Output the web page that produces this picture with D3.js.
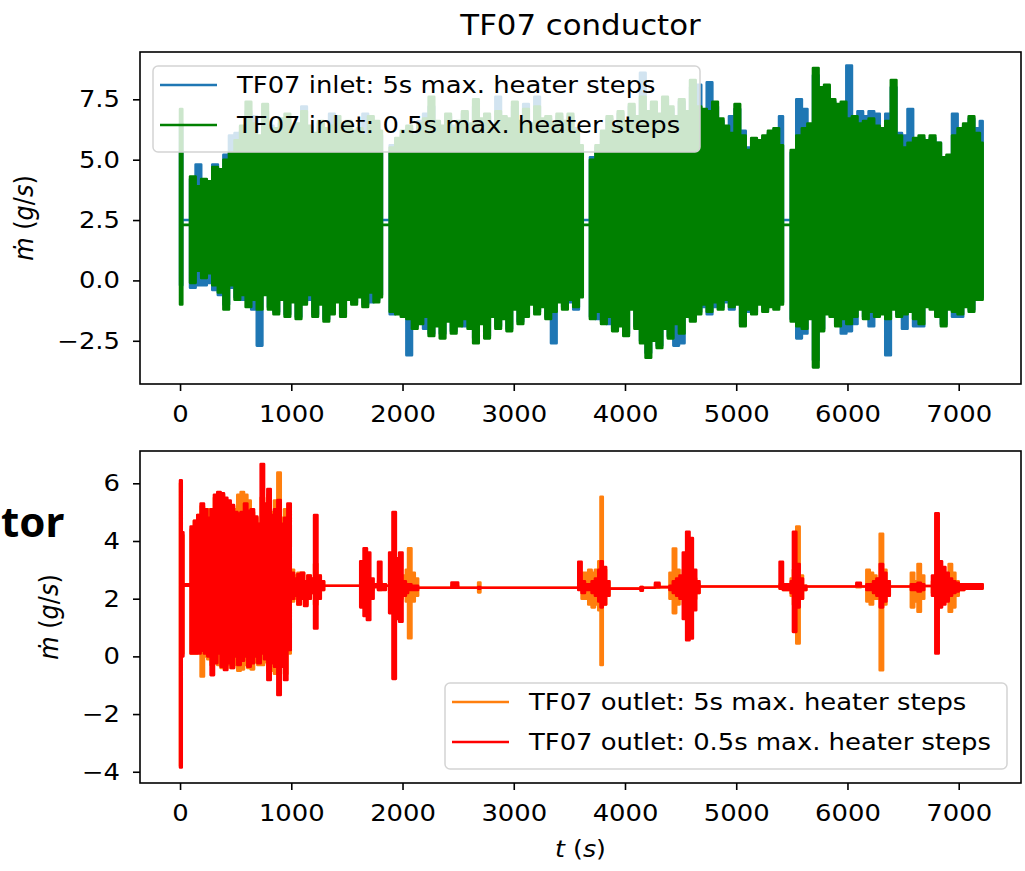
<!DOCTYPE html>
<html>
<head>
<meta charset="utf-8">
<script src="https://cdn.jsdelivr.net/npm/d3@7"></script>
<style>
body { margin: 0; background: #fff; }
text { font-family: "DejaVu Sans", sans-serif; fill: #000; }
</style>
</head>
<body>
<div id="chart"></div>
<script>
// sample times (s) and min/max envelope of each signal between samples
var tTop = [0, 20,
	90, 140, 190, 240, 290, 340, 390, 440, 490, 540, 590, 640, 690, 740, 790, 840, 890, 940, 990, 1040, 1090, 1140, 1190, 1240, 1290, 1340, 1390, 1440, 1490, 1540, 1590, 1640, 1690, 1740, 1790,
	1815,
	1885, 1935, 1985, 2035, 2085, 2135, 2185, 2235, 2285, 2335, 2385, 2435, 2485, 2535, 2585, 2635, 2685, 2735, 2785, 2835, 2885, 2935, 2985, 3035, 3085, 3135, 3185, 3235, 3285, 3335, 3385, 3435, 3485, 3535, 3585,
	3620,
	3685, 3735, 3785, 3835, 3885, 3935, 3985, 4035, 4085, 4135, 4185, 4235, 4285, 4335, 4385, 4435, 4485, 4535, 4585, 4635, 4685, 4735, 4785, 4835, 4885, 4935, 4985, 5035, 5085, 5135, 5185, 5235, 5285, 5335, 5385,
	5420,
	5490, 5540, 5590, 5640, 5690, 5740, 5790, 5840, 5890, 5940, 5990, 6040, 6090, 6140, 6190, 6240, 6290, 6340, 6390, 6440, 6490, 6540, 6590, 6640, 6690, 6740, 6790, 6840, 6890, 6940, 6990, 7040, 7090, 7140, 7190,
	7215];

var inlet05Hi = [7.1, 2.3,
	4.3, 3.9, 4.2, 4.1, 4.7, 4.6, 5.0, 5.3, 5.8, 6.4, 7.4, 6.5, 6.0, 7.3, 6.2, 6.3, 6.7, 6.9, 6.3, 6.5, 7.0, 6.4, 6.1, 6.6, 6.3, 6.4, 6.8, 6.3, 6.6, 6.2, 6.3, 6.0, 6.8, 6.6, 6.2,
	2.3,
	5.5, 5.9, 6.2, 6.4, 6.0, 6.5, 6.7, 7.6, 6.6, 6.4, 6.9, 6.3, 6.6, 7.0, 6.5, 7.5, 6.7, 6.9, 6.4, 7.0, 6.8, 6.7, 7.4, 6.6, 7.1, 6.5, 7.2, 6.7, 6.8, 6.5, 6.9, 6.6, 6.9, 6.2, 5.6,
	2.3,
	5.0, 5.6, 6.2, 6.8, 6.3, 7.0, 6.6, 7.3, 6.8, 7.6, 7.0, 7.4, 6.9, 7.6, 7.2, 6.8, 7.5, 7.0, 8.3, 7.2, 7.1, 7.0, 7.4, 6.7, 6.4, 6.1, 7.3, 6.0, 5.4, 5.9, 5.8, 6.0, 6.2, 6.3, 5.6,
	2.3,
	5.4, 6.0, 6.3, 6.5, 8.8, 8.0, 8.1, 7.5, 7.3, 7.4, 6.7, 6.8, 6.5, 6.6, 6.7, 6.4, 6.3, 6.6, 8.3, 6.0, 5.5, 5.7, 5.9, 6.0, 5.8, 6.0, 5.7, 5.1, 5.2, 6.0, 6.3, 6.5, 6.8, 6.1, 5.7,
	5.3];
var inlet05Lo = [-1.0, 2.3,
	-0.1, 0.4, 0.1, 0.3, -0.2, -0.5, -1.2, -0.2, -0.8, -0.6, -1.1, -0.8, -1.2, -0.6, -1.2, -1.4, -0.8, -1.5, -0.9, -1.6, -1.0, -0.6, -1.5, -1.0, -1.7, -1.4, -0.9, -1.5, -0.8, -1.0, -0.7, -1.1, -0.5, -0.9, -0.7,
	2.3,
	-1.3, -1.4, -1.5, -1.6, -2.0, -1.8, -1.5, -2.3, -1.9, -2.4, -1.7, -2.2, -1.9, -1.6, -2.0, -2.6, -1.8, -2.4, -1.5, -2.0, -1.6, -2.1, -1.2, -1.8, -1.5, -1.0, -1.4, -1.1, -1.6, -1.3, -0.9, -1.2, -0.8, -1.1, -0.7,
	2.3,
	-1.6, -1.3, -1.8, -1.5, -2.1, -1.9, -2.3, -1.2, -2.0, -2.6, -3.2, -2.5, -2.8, -2.0, -2.4, -1.8, -2.2, -1.5, -1.7, -1.4, -1.0, -1.3, -0.9, -1.2, -0.8, -1.1, -1.0, -1.9, -1.2, -1.4, -1.0, -1.3, -1.1, -1.2, -1.0,
	2.3,
	-1.7, -1.9, -2.0, -1.6, -3.6, -2.1, -1.4, -1.5, -1.9, -1.6, -1.8, -1.5, -1.2, -1.6, -1.3, -1.5, -1.4, -1.6, -1.2, -1.5, -1.4, -1.3, -1.6, -1.8, -1.1, -1.2, -1.5, -1.9, -1.2, -1.3, -1.4, -1.1, -1.3, -0.8, -0.8,
	-0.5];
var inlet5Hi = [6.5, 2.5,
	4.2, 4.8, 4.1, 4.0, 4.8, 4.5, 5.2, 6.0, 6.1, 6.2, 7.0, 6.8, 5.9, 7.0, 6.4, 6.1, 6.5, 6.6, 6.2, 6.4, 7.2, 6.3, 6.0, 6.5, 6.2, 6.9, 6.6, 6.2, 6.5, 6.1, 6.2, 6.9, 6.6, 6.5, 6.0,
	2.5,
	5.6, 5.8, 6.0, 6.3, 6.1, 6.6, 6.9, 7.2, 6.5, 6.3, 6.8, 6.4, 6.5, 6.9, 6.4, 7.2, 6.6, 6.8, 6.3, 7.6, 6.7, 6.6, 7.2, 6.5, 7.3, 6.4, 7.6, 6.6, 6.7, 6.4, 6.8, 6.5, 6.8, 6.3, 5.5,
	2.5,
	5.1, 5.5, 6.1, 6.7, 6.2, 6.9, 6.5, 7.2, 6.7, 8.6, 6.9, 7.3, 6.8, 7.5, 7.1, 6.7, 7.4, 6.9, 8.0, 8.1, 7.0, 8.2, 7.2, 6.6, 6.3, 6.8, 7.1, 6.2, 5.5, 5.8, 5.7, 5.9, 6.1, 6.2, 6.8,
	2.5,
	5.3, 7.5, 7.1, 6.4, 8.5, 7.8, 7.9, 7.4, 7.2, 7.3, 8.9, 6.7, 7.0, 6.8, 7.0, 6.9, 6.2, 6.9, 8.0, 6.1, 6.0, 7.1, 5.8, 5.9, 5.7, 5.9, 5.7, 5.0, 5.1, 6.9, 6.2, 6.4, 6.7, 6.3, 6.6,
	4.5];
var inlet5Lo = [-0.2, 2.5,
	-0.3, -0.2, -0.2, -0.1, -0.4, -0.6, -1.0, -0.3, -0.7, -0.8, -0.8, -1.2, -2.7, -0.5, -1.1, -1.3, -0.7, -1.4, -0.8, -1.5, -0.9, -0.8, -1.4, -0.9, -1.6, -1.3, -0.8, -1.4, -0.7, -0.9, -0.6, -1.0, -0.9, -0.8, -0.6,
	2.5,
	-1.4, -1.3, -1.4, -3.1, -1.9, -1.7, -2.0, -2.2, -1.8, -2.2, -1.6, -2.1, -1.8, -1.9, -1.9, -2.4, -1.7, -2.3, -1.4, -1.9, -1.5, -2.0, -1.1, -1.7, -1.4, -0.9, -1.3, -1.0, -1.5, -2.6, -0.8, -1.1, -0.9, -1.2, -0.6,
	2.5,
	-1.5, -1.6, -1.7, -1.8, -2.0, -1.8, -2.2, -1.1, -1.9, -2.5, -3.0, -2.4, -2.7, -1.9, -2.3, -2.7, -2.6, -1.4, -1.6, -1.3, -1.1, -1.4, -1.1, -1.1, -0.9, -1.2, -0.9, -1.8, -1.3, -1.3, -0.9, -1.2, -1.0, -1.1, -0.9,
	2.5,
	-1.6, -2.4, -2.2, -1.5, -3.3, -2.0, -1.3, -1.4, -1.8, -2.2, -2.1, -1.8, -1.1, -1.5, -1.9, -1.4, -1.3, -3.1, -1.1, -1.4, -2.0, -1.2, -1.9, -1.9, -1.0, -1.1, -1.4, -1.8, -1.1, -1.5, -1.5, -1.0, -1.2, -0.7, -0.7,
	-0.3];

var tBot = [0, 15, 30,
	95, 125, 155, 185, 215, 245, 275, 305, 335, 365, 395, 425, 455, 485, 515, 545, 575, 605, 635, 665, 695, 725, 755, 785, 815, 845, 875, 905, 935, 965,
	995, 1025, 1055, 1085, 1115, 1145, 1175, 1205, 1235, 1265, 1295,
	1620, 1650, 1680, 1710, 1740, 1780, 1810, 1850,
	1880, 1910, 1940, 1970, 2000, 2030, 2050, 2080, 2110, 2140,
	2440, 2500, 2680, 2700,
	3580, 3610, 3640, 3670, 3700, 3730, 3760, 3780, 3800, 3830, 3860,
	4140, 4160, 4270, 4310,
	4400, 4430, 4460, 4490, 4520, 4550, 4580, 4610, 4640, 4670,
	5390, 5420, 5490, 5510, 5540, 5570, 5600, 5630,
	6080, 6120,
	6170, 6200, 6230, 6260, 6290, 6320, 6350, 6380,
	6570, 6600, 6630, 6660, 6690,
	6760, 6790, 6820, 6850, 6880, 6910, 6940, 6970, 7000, 7050, 7215];

var outlet05Hi = [6.1, 4.3, 2.5,
	4.5, 4.7, 4.9, 5.3, 5.1, 4.8, 5.1, 5.6, 5.7, 5.65, 5.5, 5.4, 5.25, 5.0, 4.95, 5.0, 5.3, 5.05, 5.1, 4.85, 4.6, 6.67, 5.3, 5.8, 4.9, 5.1, 5.42, 4.6, 4.8, 5.3,
	2.9, 2.7, 2.85, 2.9, 2.6, 2.8, 2.7, 4.9, 2.8, 2.6, 2.45,
	3.3, 3.75, 3.6, 2.7, 2.5, 3.28, 2.5, 2.45,
	3.6, 5.0, 3.4, 3.6, 2.6, 2.5, 2.5, 2.45, 2.45, 2.38,
	2.56, 2.38, 2.4, 2.38,
	3.28, 2.6, 2.5, 2.5, 2.6, 2.7, 3.0, 3.3, 3.1, 2.6, 2.35,
	2.4, 2.38, 2.55, 2.4,
	2.45, 2.6, 2.7, 2.8, 3.6, 4.32, 4.1, 3.0, 2.6, 2.42,
	3.28, 2.5, 2.6, 4.32, 3.2, 2.7, 2.45, 2.42,
	2.55, 2.42,
	2.5, 2.5, 2.6, 2.7, 3.2, 2.9, 2.6, 2.42,
	2.5, 2.5, 2.55, 2.5, 2.44,
	2.8, 4.96, 3.3, 3.1, 2.9, 2.7, 2.6, 2.55, 2.5, 2.5, 2.45];
var outlet05Lo = [-3.85, 0.0, 2.45,
	0.1, 0.1, 0.1, 0.2, 0.1, 0.0, -0.65, -0.24, 0.1, -0.36, -0.47, -0.24, -0.4, 0.0, -0.3, -0.15, 0.0, -0.36, -0.24, 0.0, -0.24, 0.1, -0.1, -0.82, -0.24, -0.36, -1.34, -0.36, -0.82, 0.22,
	2.0, 2.1, 1.8, 2.0, 1.75, 2.0, 2.2, 0.97, 2.0, 2.3, 2.45,
	1.7, 1.4, 1.26, 2.0, 2.4, 2.3, 2.3, 2.45,
	1.5, -0.78, 1.3, 1.2, 2.1, 2.2, 2.3, 2.3, 2.3, 2.38,
	2.38, 2.38, 2.35, 2.38,
	2.3, 2.2, 2.3, 2.3, 2.2, 2.1, 1.9, 1.7, 1.8, 2.1, 2.35,
	2.28, 2.38, 2.4, 2.4,
	2.3, 2.2, 2.1, 2.0, 1.3, 0.56, 0.62, 1.6, 2.2, 2.42,
	2.35, 2.3, 2.2, 0.85, 1.7, 2.0, 2.3, 2.42,
	2.42, 2.42,
	2.3, 2.3, 2.2, 2.1, 1.7, 1.9, 2.1, 2.42,
	2.3, 2.3, 2.25, 2.3, 2.44,
	2.1, 0.1, 1.7, 1.8, 1.9, 2.1, 2.2, 2.25, 2.3, 2.35, 2.45];
var outlet5Hi = [6.0, 4.2, 2.5,
	4.4, 4.7, 4.9, 5.2, 5.0, 5.1, 5.1, 5.5, 5.6, 5.6, 5.4, 5.3, 5.2, 5.1, 5.6, 5.7, 5.6, 5.4, 5.0, 4.8, 4.6, 5.5, 5.1, 5.6, 5.0, 5.4, 6.37, 4.8, 5.1, 5.0,
	3.0, 2.8, 2.9, 2.9, 2.6, 2.8, 2.7, 3.2, 2.8, 2.6, 2.45,
	2.6, 2.6, 2.6, 2.5, 2.45, 2.6, 2.5, 2.45,
	2.6, 3.0, 2.9, 2.7, 2.8, 3.0, 3.75, 2.9, 2.7, 2.38,
	2.45, 2.38, 2.56, 2.38,
	2.5, 2.9, 2.9, 3.0, 2.9, 3.0, 3.3, 5.53, 3.0, 2.6, 2.35,
	2.4, 2.38, 2.5, 2.4,
	2.9, 3.74, 3.0, 2.7, 3.0, 3.2, 2.9, 2.7, 2.5, 2.42,
	2.5, 2.5, 2.7, 3.0, 4.5, 2.8, 2.45, 2.42,
	2.5, 2.42,
	3.0, 2.9, 2.8, 2.7, 4.25, 3.0, 2.6, 2.42,
	2.9, 2.6, 3.2, 2.8, 2.44,
	2.6, 2.8, 2.9, 2.8, 2.8, 3.2, 2.9, 2.6, 2.5, 2.5, 2.45];
var outlet5Lo = [-3.8, 0.1, 2.45,
	0.1, 0.1, 0.2, -0.7, 0.0, -0.1, -0.3, -0.2, -0.3, -0.4, -0.4, -0.3, -0.4, -0.3, -0.5, -0.45, -0.3, -0.4, -0.45, -0.2, -0.3, -0.3, -0.2, -0.5, -0.5, -0.6, -0.5, -0.2, -0.6, 0.1,
	1.9, 2.0, 1.8, 2.0, 1.8, 2.0, 2.2, 1.8, 2.0, 2.3, 2.45,
	2.3, 2.2, 2.3, 2.3, 2.45, 2.3, 2.35, 2.45,
	2.2, 1.8, 1.9, 2.0, 2.1, 1.9, 0.63, 1.9, 2.1, 2.38,
	2.38, 2.38, 2.22, 2.38,
	2.35, 2.0, 2.0, 1.8, 1.7, 1.8, 1.6, -0.3, 1.8, 2.1, 2.35,
	2.28, 2.38, 2.38, 2.4,
	2.0, 1.5, 1.8, 2.0, 1.8, 1.5, 1.7, 2.0, 2.2, 2.42,
	2.35, 2.3, 2.1, 1.8, 0.45, 2.0, 2.3, 2.42,
	2.4, 2.42,
	1.9, 1.8, 2.0, 2.0, -0.48, 1.8, 2.1, 2.42,
	1.7, 1.9, 1.55, 2.0, 2.44,
	2.2, 2.0, 1.8, 1.9, 2.0, 1.55, 1.7, 2.1, 2.3, 2.35, 2.45];

var xTicks = [0, 1000, 2000, 3000, 4000, 5000, 6000, 7000];
var yTicksTop = [-2.5, 0, 2.5, 5, 7.5];
var yTicksBot = [-4, -2, 0, 2, 4, 6];
var labelsTop = ["TF07 inlet: 5s max. heater steps", "TF07 inlet: 0.5s max. heater steps"];
var labelsBot = ["TF07 outlet: 5s max. heater steps", "TF07 outlet: 0.5s max. heater steps"];
var colorsTop = ["#1f77b4", "green"];
var colorsBot = ["#ff7f0e", "red"];

var svgWidth = 1025;
var svgHeight = 871;
var SX = 1.1;   // glyphs in the picture are a bit wider than tall
var fs = 23.5;

var svg = d3.select("#chart").append("svg").attr("width", svgWidth).attr("height", svgHeight);

var x = d3.scaleLinear().domain([-360, 7560]).range([140, 1021]);
var yTop = d3.scaleLinear().domain([-4.29, 9.46]).range([384, 52]);
var yBot = d3.scaleLinear().domain([-4.39, 7.12]).range([783, 451]);

function zip(t, hi, lo) {
	return t.map(function(d, i) { return {t: d, hi: hi[i], lo: lo[i]}; });
}

function band(g, rows, y, color) {
	var area = d3.area().curve(d3.curveStepAfter)
		.x(function(d) { return x(d.t); })
		.y0(function(d) { return y(d.lo); })
		.y1(function(d) { return y(d.hi); });
	g.append("path").datum(rows).attr("d", area)
		.attr("fill", color).attr("stroke", color).attr("stroke-width", 2.6).attr("stroke-linejoin", "round");
}

function axes(y, yTicks, fmt) {
	var r = y.range();
	var bottomAxis = d3.axisBottom(x).tickValues(xTicks).tickFormat(d3.format("d")).tickSize(7).tickPadding(14).tickSizeOuter(0);
	var leftAxis = d3.axisLeft(y).tickValues(yTicks).tickFormat(fmt).tickSize(7).tickPadding(13).tickSizeOuter(0);
	var gx = svg.append("g").attr("transform", `translate(0, ${r[0]})`).call(bottomAxis);
	var gy = svg.append("g").attr("transform", "translate(140, 0)").call(leftAxis);
	[gx, gy].forEach(function(g) {
		g.select(".domain").remove();
		g.selectAll(".tick line").attr("stroke", "#000").attr("stroke-width", 1.6);
		g.selectAll(".tick text").attr("fill", "#000").style("font-size", fs + "px")
			.style("font-family", "DejaVu Sans").attr("transform", `scale(${SX},1)`);
	});
	gx.selectAll(".tick text").attr("x", 0);
	gy.selectAll(".tick text").attr("x", -20 / SX);
	svg.append("rect").attr("x", 140).attr("y", r[1]).attr("width", 881).attr("height", r[0] - r[1])
		.attr("fill", "none").attr("stroke", "#000").attr("stroke-width", 1.6);
}

function legend(bx, by, bw, labels, colors) {
	var lg = svg.append("g");
	lg.append("rect").attr("x", bx).attr("y", by).attr("width", bw).attr("height", 86).attr("rx", 5)
		.attr("fill", "#fff").attr("fill-opacity", 0.8).attr("stroke", "#d4d4d4").attr("stroke-width", 1.5);
	labels.forEach(function(lab, i) {
		var ly = by + 19 + i * 40;
		lg.append("line").attr("x1", bx + 7).attr("x2", bx + 64).attr("y1", ly).attr("y2", ly)
			.attr("stroke", colors[i]).attr("stroke-width", 2.6);
		lg.append("text").attr("transform", `translate(${bx + 84}, ${ly}) scale(${SX},1)`)
			.attr("dy", "0.35em").style("font-size", fs + "px").text(lab);
	});
}

function yLabel(px, py) {
	var t = svg.append("text").attr("transform", `translate(${px}, ${py}) scale(${SX},1) rotate(-90)`)
		.attr("text-anchor", "middle").style("font-size", "24px");
	t.append("tspan").style("font-style", "italic").text("ṁ");
	t.append("tspan").text(" (");
	t.append("tspan").style("font-style", "italic").text("g");
	t.append("tspan").text("/");
	t.append("tspan").style("font-style", "italic").text("s");
	t.append("tspan").text(")");
}

// top panel: inlet
var topG = svg.append("g");
band(topG, zip(tTop, inlet5Hi, inlet5Lo), yTop, colorsTop[0]);
band(topG, zip(tTop, inlet05Hi, inlet05Lo), yTop, colorsTop[1]);
axes(yTop, yTicksTop, d3.format(".1f"));
legend(153, 66, 547, labelsTop, colorsTop);
yLabel(33, 218);

svg.append("text").attr("transform", `translate(580.5, 35) scale(${SX},1)`)
	.attr("text-anchor", "middle").style("font-size", "28px").text("TF07 conductor");

// bottom panel: outlet
var botG = svg.append("g");
band(botG, zip(tBot, outlet5Hi, outlet5Lo), yBot, colorsBot[0]);
band(botG, zip(tBot, outlet05Hi, outlet05Lo), yBot, colorsBot[1]);
axes(yBot, yTicksBot, d3.format("d"));
legend(445, 683, 562, labelsBot, colorsBot);
yLabel(58, 617);

var xl = svg.append("text").attr("transform", `translate(580.5, 857) scale(${SX},1)`)
	.attr("text-anchor", "middle").style("font-size", "23px");
xl.append("tspan").style("font-style", "italic").text("t");
xl.append("tspan").text(" (");
xl.append("tspan").style("font-style", "italic").text("s");
xl.append("tspan").text(")");

// heading fragment at the left edge
svg.append("text").attr("x", 1).attr("y", 537).attr("text-anchor", "start")
	.style("font-family", "'Noto Sans'").style("font-weight", "bold").style("font-size", "42px").text("tor");
</script>
</body>
</html>
